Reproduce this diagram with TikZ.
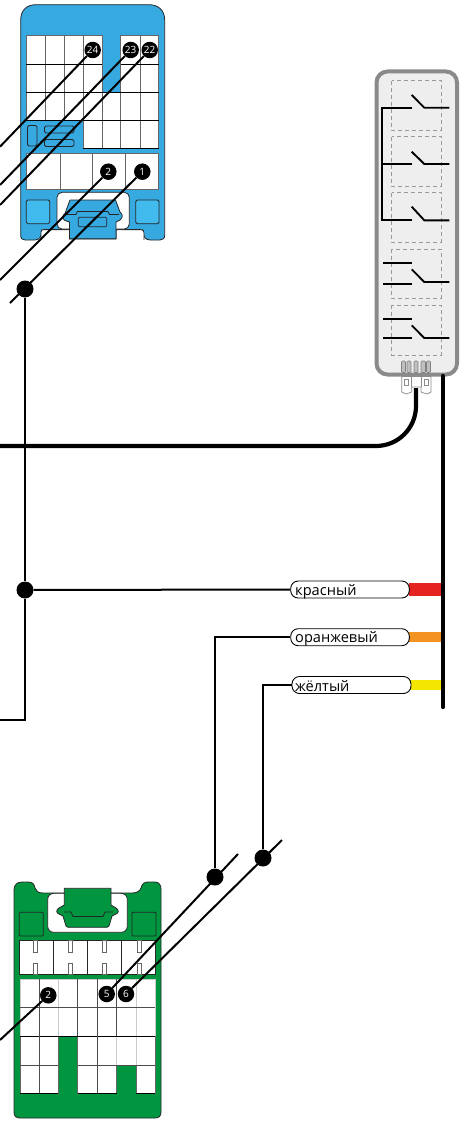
\documentclass[tikz,border=0pt]{standalone}
\usepackage{fontspec}
\setmainfont{Open Sans}
\definecolor{blueC}{HTML}{36A9E1}
\definecolor{blueL}{HTML}{41BBEE}
\definecolor{greenC}{HTML}{009640}
\definecolor{grayR}{HTML}{8A8A8A}
\definecolor{fillR}{HTML}{EEEEEE}
\definecolor{cRed}{HTML}{E52421}
\definecolor{cOrange}{HTML}{F39322}
\definecolor{cYellow}{HTML}{F5E600}
\tikzset{
  x=1pt,y=-1pt,
  wire/.style={draw=black,line width=2pt},
  thick wire/.style={draw=black,line width=4.2pt},
  pin/.style={circle,fill=black,draw=none,minimum size=16.5pt,inner sep=0pt,text=white,font=\fontsize{10}{10}\selectfont},
  junction/.style={circle,fill=black,draw=none,minimum size=17pt,inner sep=0pt},
  pill/.style={draw=black,fill=white,line width=0.9pt,rounded corners=7.5pt},
  cell/.style={draw=black!60,fill=white,line width=0.8pt},
  part/.style={draw=black!85,line width=0.8pt},
  dash box/.style={draw=black!40,line width=0.7pt,dash pattern=on 4pt off 3pt},
  sw/.style={draw=black,line width=1.9pt},
  lab/.style={font=\fontsize{14.6}{14.6}\selectfont,anchor=base west,inner sep=0pt},
}
\begin{document}
\begin{tikzpicture}
\useasboundingbox (0,0) rectangle (462,1124);
% ---------- blue connector
\filldraw[part,fill=blueC] (20.7,20) .. controls (20.7,10) and (27,4.7) .. (36,4.7) -- (149,4.7) .. controls (158,4.7) and (164.7,10) .. (164.7,20)
  -- (164.7,235) .. controls (164.7,238.5) and (163,240) .. (160,240) -- (150,240) .. controls (145,240) and (143,236) .. (143,230) -- (116,230) -- (116,239) -- (69.5,239) -- (69.5,230) -- (43,230) .. controls (41,236) and (40,240) .. (35,240)
  -- (25,240) .. controls (22,240) and (20.7,238.5) .. (20.7,235) -- cycle;
\fill[white] (41,240.8) -- (41,232) .. controls (41,230) and (42,229.6) .. (44,229.6) -- (69,229.6) -- (69,240.8) -- cycle;
\fill[white] (116.5,240.8) -- (116.5,229.6) -- (141,229.6) .. controls (143,229.6) and (144,231) .. (144,233) -- (144,240.8) -- cycle;
\draw[line width=0.8pt,black!85] (41,239.8) -- (41,232) .. controls (41,230) and (42,229.6) .. (44,229.6) -- (69.5,229.6) -- (69.5,239);
\draw[line width=0.8pt,black!85] (116,239) -- (116,229.6) -- (141,229.6) .. controls (143,229.6) and (144,231) .. (144,233) -- (144,239.8);
% grid
\foreach \x/\xx in {26.3/45.3,45.3/64.3,64.3/83.3,83.3/102.3,120.7/140,140/158.7}
  \foreach \y/\yy in {35.7/64,64/92.3} \draw[cell] (\x,\y) rectangle (\xx,\yy);
\foreach \x/\xx in {26.3/45.3,45.3/64.3,64.3/83.3,83.3/102.3,102.3/120.7,120.7/140,140/158.7}
  \draw[cell] (\x,92.3) rectangle (\xx,120.3);
\foreach \x/\xx in {83.3/102.3,102.3/120.7,120.7/140,140/158.7}
  \draw[cell] (\x,120.3) rectangle (\xx,148.3);
\draw[line width=0.8pt,black] (26.3,92.3) -- (158.7,92.3) (26.3,64) -- (102.3,64) (120.7,64) -- (158.7,64) (26.3,120.3) -- (158.7,120.3) (83.3,148.3) -- (158.7,148.3);
\fill[blueC] (102.7,88) rectangle (120.3,91.8);
\filldraw[part,fill=blueC,rounded corners=1.5pt] (27.5,125.5) rectangle (37,146);
\filldraw[part,fill=blueC,rounded corners=1.5pt] (44.5,126) rectangle (74,133);
\filldraw[part,fill=blueC,rounded corners=1.5pt] (44.5,139.5) rectangle (74,146.5);
% second row
\foreach \x/\xx in {26.3/60.3,60.3/92.7,92.7/125,125/158.7}
  \draw[cell] (\x,153.3) rectangle (\xx,189.3);
% squares
\filldraw[part,fill=blueL,rounded corners=1.5pt] (26.3,200) rectangle (49.7,223.7);
\filldraw[part,fill=blueL,rounded corners=1.5pt] (135.7,200) rectangle (159,223.7);
% slot
\filldraw[draw=black!85,line width=0.8pt,fill=white,rounded corners=5pt] (57,192.3) -- (129.3,192.3) -- (129.3,229) -- (57,229) -- cycle;
% plug
\filldraw[part,fill=blueC,line join=round] (70,200) -- (115.5,200) -- (120,212) .. controls (123,214) and (123,218) .. (120,220) -- (116,222) -- (116,238.7) -- (69.5,238.7) -- (69.5,222) -- (65,220.5) .. controls (62,219) and (62,215) .. (65,213.5) -- cycle;
\draw[part] (66,214.5) -- (76,214.5) -- (77.5,211.5) -- (108,211.5) -- (109.5,214.5) -- (119,214.5);
\filldraw[part,fill=blueC,rounded corners=1pt] (78.3,217.3) rectangle (106.7,226.7);
% ---------- green connector
\filldraw[part,fill=greenC] (14,890) .. controls (14,885) and (17,882) .. (22,882) -- (28,882) .. controls (33,882) and (34,884) .. (35,888) .. controls (36,891) and (38,893) .. (43,893) -- (132,893) .. controls (137,893) and (140,891) .. (141,888) .. controls (142,884) and (144,882) .. (148,882) -- (155,882) .. controls (159,882) and (161,885) .. (161,889)
  -- (161,1112) .. controls (161,1116) and (159,1118) .. (155,1118) -- (20,1118) .. controls (16,1118) and (14,1116) .. (14,1112) -- cycle;
\filldraw[draw=black!85,line width=0.8pt,fill=white,rounded corners=6pt] (47.7,893.3) rectangle (127.3,932.3);
\filldraw[part,fill=greenC,line join=round] (64.3,888.3) -- (111,888.3) -- (111,905) -- (116,908) .. controls (119,910) and (119,913) .. (116,914) -- (112,916) -- (109,926) -- (107,927.3) -- (68,927.3) -- (66,926) -- (63,916) -- (59,914) .. controls (56,913) and (56,910) .. (59,908) -- (64.3,905) -- cycle;
\draw[part] (64,912) -- (71,912) -- (73,916.5) -- (103,916.5) -- (105,912) -- (113,912);
\filldraw[part,fill=greenC,rounded corners=1pt] (19.3,912.3) rectangle (43.3,936);
\filldraw[part,fill=greenC,rounded corners=1pt] (132,912.3) rectangle (156,936);
% band
\foreach \x/\xx in {19.3/53.3,53.3/87.7,87.7/121.7,121.7/155.3}
  \draw[cell,draw=black!85] (\x,940.7) rectangle (\xx,974.3);
\foreach \x in {33.3,68.3,102.3,137.3} {
  \draw[cell] (\x,940.7) rectangle ++(4.4,11.6);
  \draw[cell] (\x,963.3) rectangle ++(4.4,11);
}
% grid
\foreach \x/\xx in {20/39,39/58.3,58.3/77.7,77.7/97.3,97.3/116.7,116.7/136,136/155.3}
  \foreach \y/\yy in {979.3/1007.7,1007.7/1036} \draw[cell,draw=black!20] (\x,\y) rectangle (\xx,\yy);
\foreach \x/\xx in {20/39,39/58.3,77.7/97.3,97.3/116.7,136/155.3}
  \foreach \y/\yy in {1036/1065,1065/1093.3} \draw[cell] (\x,\y) rectangle (\xx,\yy);
\draw[cell,draw=black!20] (116.7,1036) rectangle (136,1065);
\draw[line width=0.8pt,black] (20,1036) -- (155.3,1036) (20,1093.3) -- (58.3,1093.3) (77.7,1093.3) -- (116.7,1093.3) (136,1093.3) -- (155.3,1093.3);
\draw[line width=0.8pt,black!70] (20,1007.7) -- (155.3,1007.7) (20,1065) -- (58.3,1065) (77.7,1065) -- (155.3,1065) (39,979.3) -- (39,1093.3) (77.7,979.3) -- (77.7,1036) (97.3,979.3) -- (97.3,1093.3) (116.7,979.3) -- (116.7,1036);
% ---------- relay block
\draw[draw=grayR,fill=fillR,line width=4pt,rounded corners=11pt] (376.5,71.5) rectangle (457,374.5);
\foreach \a/\b in {80.7/130.3,136.7/186.3,192.7/242.3,249/298.3,305/355}
  \draw[dash box] (391.7,\a) rectangle (441,\b);
\draw[sw,line join=miter] (411.7,107.7) -- (382.3,107.7) -- (382.3,220.3) -- (411.7,220.3);
\draw[sw] (382.3,164) -- (411.7,164);
\draw[sw] (411.7,95) -- (424.3,107.7) -- (449.3,107.7);
\draw[sw] (411.7,151.7) -- (424.3,164) -- (449.3,164);
\draw[sw] (411.7,206.7) -- (424.3,220.3) -- (449.3,220.3);
\draw[sw] (383.3,262.7) -- (412,262.7);
\draw[sw] (383.3,283.7) -- (412,283.7);
\draw[sw] (411.7,269.3) -- (424.3,282) -- (449.3,282);
\draw[sw] (383.3,319.3) -- (412,319.3);
\draw[sw] (383.3,338) -- (412,338);
\draw[sw] (411.7,325.3) -- (424.3,338) -- (449.3,338);
% relay plug
\foreach \x/\w in {401.5/4,407/4,414/4,421/4.5,426.5/4} \filldraw[draw=black!50,fill=black!25,line width=0.6pt,rounded corners=1pt] (\x,361) rectangle (\x+\w,372.5);
\filldraw[draw=black!45,fill=white,line width=0.7pt] (401.7,376.5) -- (401.7,392) -- (406,394) -- (411.7,392) -- (411.7,387) -- (421,387) -- (421,392) -- (427,394) -- (431,392) -- (431,376.5) -- cycle;
\draw[draw=black!45,line width=0.7pt] (404.5,379) rectangle (408.5,385) (424,379) rectangle (428,385) (411.7,376.5) -- (411.7,387) (421,376.5) -- (421,387);
% ---------- wires
\fill[cRed] (409,583.3) rectangle (443,595.7);
\fill[cOrange] (409,632.3) rectangle (445,641.7);
\fill[cYellow] (410,680) rectangle (443,690);
\coordinate (busTop) at (443,376);
\coordinate (busEnd) at (443,707);
\draw[thick wire,line cap=round] (busTop) -- (busEnd);
\coordinate (relayOut) at (416,388);
\coordinate (leftThick) at (0,446);
\draw[thick wire] (relayOut) -- (416,406) arc[start angle=0,end angle=90,radius=40] -- (leftThick);
% pills
\node[pill,minimum width=118.6pt,minimum height=17pt,inner sep=0pt] (lr) at (350,589.5) {};
\node[pill,minimum width=118.6pt,minimum height=17pt,inner sep=0pt] (lo) at (350,637.2) {};
\node[pill,minimum width=119pt,minimum height=17pt,inner sep=0pt] (ly) at (351.5,685) {};
\node[lab] (tr) at (295,595) {красный};
\node[lab] (to) at (295,642.5) {оранжевый};
\node[lab] (ty) at (295,691) {жёлтый};
% pins
\node[pin] (p24) at (92.7,50) {24};
\node[pin] (p23) at (130.7,50) {23};
\node[pin] (p22) at (149.7,50) {22};
\node[pin] (p2) at (108.3,171.7) {2};
\node[pin] (p1) at (142.3,171.7) {1};
\node[pin] (q2) at (48.3,995.3) {2};
\node[pin] (q5) at (106.7,994) {5};
\node[pin] (q6) at (126,994) {6};
% junctions
\node[junction] (j1) at (25,289) {};
\node[junction] (j2) at (25,590) {};
\node[junction] (j3) at (215,877) {};
\node[junction] (j4) at (263,858) {};
% free ends
\coordinate (e24) at (0,146.7);
\coordinate (e23) at (0,185);
\coordinate (e22) at (0,205);
\coordinate (e2) at (0,280);
\coordinate (e1) at (10,303);
\coordinate (eb) at (0,720);
\coordinate (eq2) at (0,1040);
\coordinate (eq5) at (238,854);
\coordinate (eq6) at (282,840);
\draw[wire] (p24) -- (e24);
\draw[wire] (p23) -- (e23);
\draw[wire] (p22) -- (e22);
\draw[wire] (p2) -- (e2);
\draw[wire] (p1) -- (e1);
\draw[wire] (j1) -- (j2);
\draw[wire] (j2) -- (25,720) -- (eb);
\draw[wire] (j2) -- (lr.west);
\draw[wire] (lo.west) -- (215,637.2) -- (j3);
\draw[wire] (ly.west) -- (263,685) -- (j4);
\draw[wire] (q2) -- (eq2);
\draw[wire] (q5) -- (eq5);
\draw[wire] (q6) -- (eq6);
\end{tikzpicture}
\end{document}
